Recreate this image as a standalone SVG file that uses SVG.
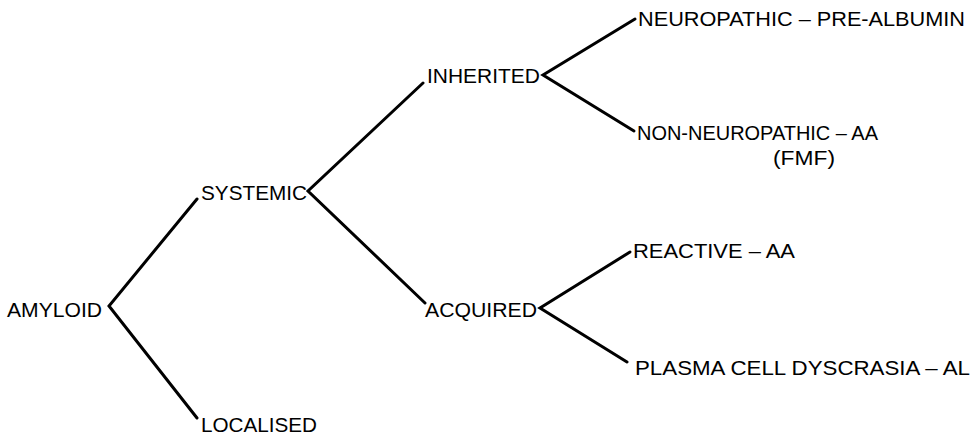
<svg xmlns="http://www.w3.org/2000/svg" width="976" height="435" viewBox="0 0 976 435">
<style>
.t{font-family:"Liberation Sans",Arial,sans-serif;font-size:21px;fill:#000}
.c{stroke:#000;stroke-width:3;fill:none;stroke-linecap:round;stroke-linejoin:miter}
</style>
<rect width="976" height="435" fill="#fff"/>
<g id="connectors">
<polyline class="c" points="197,199 109,306 197,418"/>
<polyline class="c" points="423,83 308,191 425,303"/>
<polyline class="c" points="635,19 543,75 634,131"/>
<polyline class="c" points="630,252 540,308 627,362"/>
</g>
<g id="amyloid"><text class="t" x="7" y="317" textLength="95" lengthAdjust="spacingAndGlyphs">AMYLOID</text></g>
<g id="systemic"><text class="t" x="201" y="200" textLength="106" lengthAdjust="spacingAndGlyphs">SYSTEMIC</text></g>
<g id="localised"><text class="t" x="201" y="432" textLength="116" lengthAdjust="spacingAndGlyphs">LOCALISED</text></g>
<g id="inherited"><text class="t" x="427" y="83" textLength="113" lengthAdjust="spacingAndGlyphs">INHERITED</text></g>
<g id="acquired"><text class="t" x="425" y="317" textLength="112" lengthAdjust="spacingAndGlyphs">ACQUIRED</text></g>
<g id="neuropathic"><text class="t" x="638" y="26" textLength="327" lengthAdjust="spacingAndGlyphs">NEUROPATHIC – PRE-ALBUMIN</text></g>
<g id="non-neuropathic">
<text class="t" x="637" y="140" textLength="241" lengthAdjust="spacingAndGlyphs">NON-NEUROPATHIC – AA</text>
<text class="t" x="773" y="165" textLength="62" lengthAdjust="spacingAndGlyphs">(FMF)</text>
</g>
<g id="reactive"><text class="t" x="633" y="258" textLength="162" lengthAdjust="spacingAndGlyphs">REACTIVE – AA</text></g>
<g id="plasma"><text class="t" x="635" y="375" textLength="335" lengthAdjust="spacingAndGlyphs">PLASMA CELL DYSCRASIA – AL</text></g>
</svg>
